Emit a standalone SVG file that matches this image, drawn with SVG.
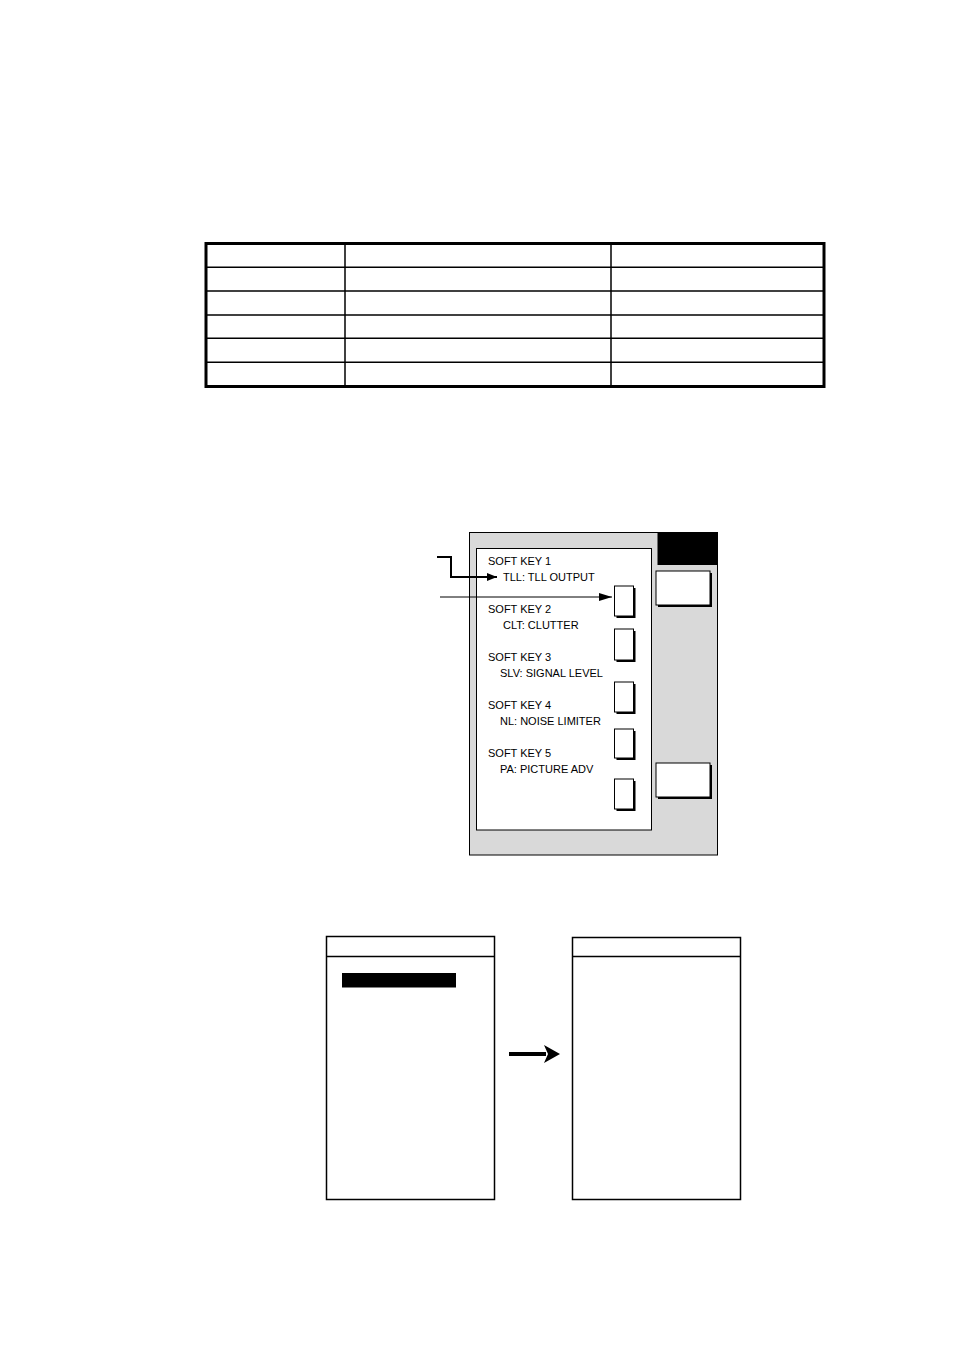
<svg xmlns="http://www.w3.org/2000/svg" width="954" height="1351" viewBox="0 0 954 1351">
<style>
.lbl{font-family:"Liberation Sans",Arial,sans-serif;font-size:11px;fill:#000}
.key{fill:#fff;stroke:#000;stroke-width:1}
.shadow{fill:#000}
.box{fill:#fff;stroke:#000;stroke-width:1.5}
</style>
<defs>
<marker id="ah" markerWidth="10" markerHeight="8" refX="10" refY="4" orient="auto" markerUnits="userSpaceOnUse">
<path d="M0,0 L10,4 L0,8 Z" fill="#000"/>
</marker>
<marker id="ah2" markerWidth="13" markerHeight="8" refX="13" refY="4" orient="auto" markerUnits="userSpaceOnUse">
<path d="M0,0 L13,4 L0,8 Z" fill="#000"/>
</marker>
</defs>
<rect width="954" height="1351" fill="#fff"/>

<g id="table">
<rect x="206" y="243.5" width="618" height="143" fill="none" stroke="#000" stroke-width="3"/>
<g stroke="#000" stroke-width="1.5">
<line x1="345" y1="243.5" x2="345" y2="386.5"/>
<line x1="611" y1="243.5" x2="611" y2="386.5"/>
<line x1="206" y1="267.3" x2="824" y2="267.3"/>
<line x1="206" y1="291" x2="824" y2="291"/>
<line x1="206" y1="315" x2="824" y2="315"/>
<line x1="206" y1="338.3" x2="824" y2="338.3"/>
<line x1="206" y1="362.3" x2="824" y2="362.3"/>
</g>
</g>

<g id="panel">
<rect x="469.5" y="532.5" width="248" height="322.5" fill="#d9d9d9" stroke="#000" stroke-width="1"/>
<rect x="657.5" y="532.5" width="60" height="32.5" fill="#000"/>
<rect x="476.5" y="548.5" width="175" height="281.5" fill="#fff" stroke="#000" stroke-width="1"/>
</g>

<g id="right-buttons">
<rect x="658" y="573" width="54" height="34" class="shadow"/>
<rect x="656" y="571" width="54" height="34" class="key"/>
<rect x="658" y="765" width="54" height="34" class="shadow"/>
<rect x="656" y="763" width="54" height="34" class="key"/>
</g>

<g id="soft-keys">
<rect x="616.5" y="588" width="19" height="30" class="shadow"/>
<rect x="614.5" y="586" width="19" height="30" class="key"/>
<rect x="616.5" y="631" width="19" height="31" class="shadow"/>
<rect x="614.5" y="629" width="19" height="31" class="key"/>
<rect x="616.5" y="684" width="19" height="30" class="shadow"/>
<rect x="614.5" y="682" width="19" height="30" class="key"/>
<rect x="616.5" y="731" width="19" height="29" class="shadow"/>
<rect x="614.5" y="729" width="19" height="29" class="key"/>
<rect x="616.5" y="781" width="19" height="30" class="shadow"/>
<rect x="614.5" y="779" width="19" height="30" class="key"/>
</g>

<g id="labels">
<text class="lbl" x="488" y="564.5">SOFT KEY 1</text>
<text class="lbl" x="503" y="580.5">TLL: TLL OUTPUT</text>
<text class="lbl" x="488" y="612.5">SOFT KEY 2</text>
<text class="lbl" x="503" y="628.5">CLT: CLUTTER</text>
<text class="lbl" x="488" y="660.5">SOFT KEY 3</text>
<text class="lbl" x="500" y="676.5">SLV: SIGNAL LEVEL</text>
<text class="lbl" x="488" y="708.5">SOFT KEY 4</text>
<text class="lbl" x="500" y="724.5">NL: NOISE LIMITER</text>
<text class="lbl" x="488" y="756.5">SOFT KEY 5</text>
<text class="lbl" x="500" y="772.5">PA: PICTURE ADV</text>
</g>

<g id="menus">
<rect x="326.5" y="936.5" width="168" height="263" class="box"/>
<line x1="326.5" y1="956.5" x2="494.5" y2="956.5" stroke="#000" stroke-width="1.5"/>
<rect x="342" y="973" width="114" height="14.5" fill="#000"/>
<rect x="572.5" y="937.5" width="168" height="262" class="box"/>
<line x1="572.5" y1="956.5" x2="740.5" y2="956.5" stroke="#000" stroke-width="1.5"/>
</g>

<g id="connectors" fill="none" stroke="#000">
<path d="M437,557 H451 V577 H497" stroke-width="2" marker-end="url(#ah)"/>
<path d="M440,597 H612" stroke-width="1" marker-end="url(#ah2)"/>
<path d="M509,1054 H546" stroke-width="4"/>
<path d="M544,1045 L560,1054 L544,1063 L548,1054 Z" fill="#000" stroke="none"/>
</g>
</svg>
